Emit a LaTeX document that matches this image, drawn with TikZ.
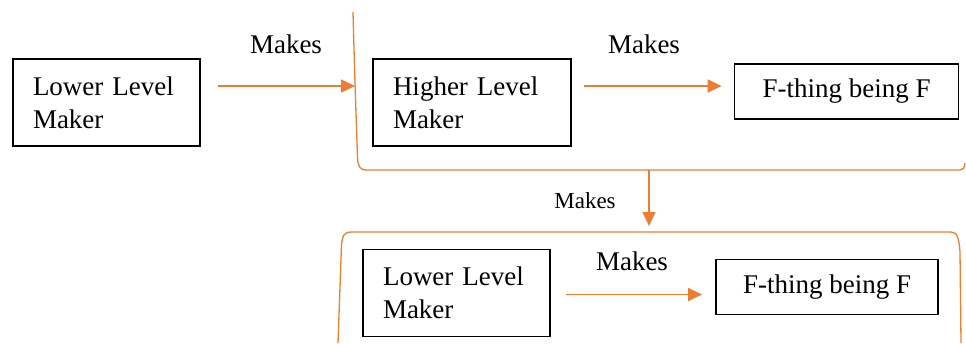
\documentclass[tikz,border=0pt]{standalone}
\usepackage{fontspec}
\setmainfont{Liberation Serif}
\usetikzlibrary{arrows.meta}
\definecolor{mkorange}{HTML}{ED7D31}
\begin{document}
\begin{tikzpicture}[x=1pt,y=-1pt,
  mkbox/.style={draw=black,line width=1.8pt,inner sep=0pt,font=\fontsize{27}{33}\selectfont},
  twoline/.style={mkbox,minimum width=#1,text width=#1-40pt,inner xsep=20pt,align=left,minimum height=87pt},
  oneline/.style={mkbox,minimum width=#1,minimum height=55pt,align=center},
  mkarrow/.style={draw=mkorange,line width=1.4pt,-{Triangle[length=14pt,width=13pt]}},
  bracket/.style={draw=mkorange,line width=1.3pt},
  lbl/.style={anchor=base,inner sep=0pt,font=\fontsize{27}{33}\selectfont},
  slbl/.style={anchor=base,inner sep=0pt,font=\fontsize{23}{28}\selectfont}]
\useasboundingbox (0,0) rectangle (966,343);
% top row
\node[twoline=187pt] (b1) at (106.5,102.5) {Lower Level\\Maker};
\node[twoline=198pt] (b2) at (472,102.5) {Higher Level\\Maker};
\node[oneline=224pt] (b3) at (846.5,91.5) {F-thing being F};
% bottom row
\node[twoline=187pt] (b4) at (456.5,293) {Lower Level\\Maker};
\node[oneline=222pt] (b5) at (827,287) {F-thing being F};
% brackets
\draw[bracket] (353,12) coordinate (br1top) .. controls (355,90) and (357,140) .. (357.5,158)
  .. controls (358,167) and (360,170) .. (367,170) coordinate (br1l)
  -- (960,170) .. controls (963,170) and (964.5,168) .. (965,163);
\coordinate (br1in) at (355,86);
\coordinate (br1bot) at (649,170);
\draw[bracket] (338,343) -- (341.5,245) .. controls (342.5,235) and (344,232) .. (352,232) coordinate (br2l)
  -- (951,232) .. controls (957,232) and (959,238) .. (960,252) -- (961,343);
\coordinate (br2top) at (649,226);
% arrows
\draw[mkarrow] ([xshift=17pt]b1.east |- br1in) -- (br1in);
\draw[mkarrow] ([xshift=12pt]b2.east |- 0,86) -- ([xshift=-12pt]b3.west |- 0,86);
\draw[mkarrow] (br1bot) -- (br2top);
\draw[mkarrow] ([xshift=15pt]b4.east |- 0,294.5) -- ([xshift=-13pt]b5.west |- 0,294.5);
% labels
\node[lbl] (l1) at (286,53) {Makes};
\node[lbl] (l2) at (644,53) {Makes};
\node[slbl] (l3) at (585,208) {Makes};
\node[lbl] (l4) at (632,270) {Makes};
\end{tikzpicture}
\end{document}
